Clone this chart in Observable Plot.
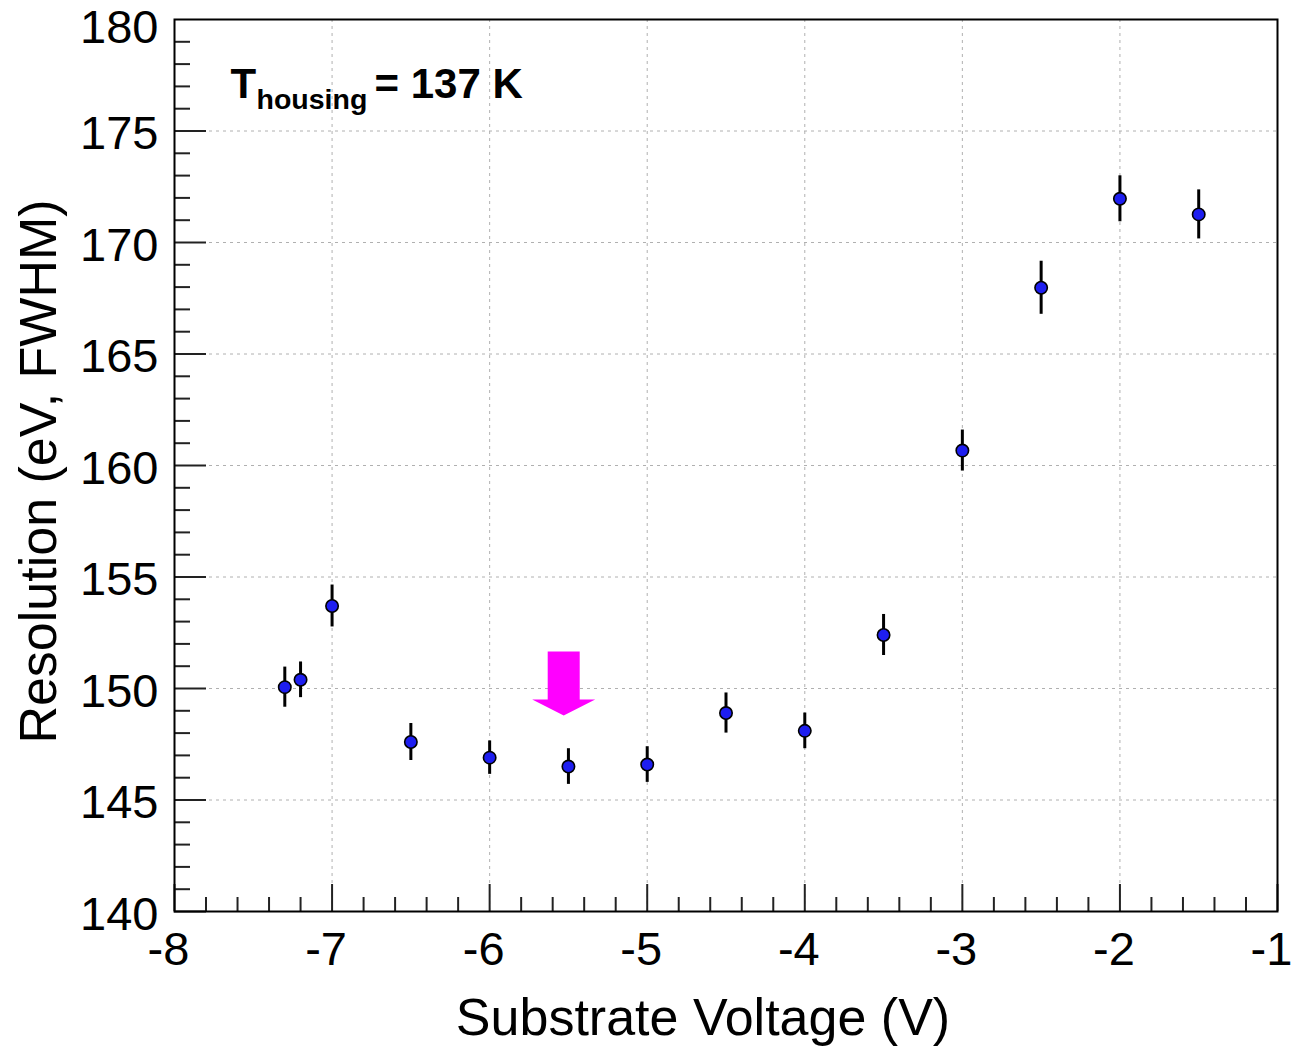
<!DOCTYPE html>
<html><head><meta charset="utf-8">
<script src="https://cdn.jsdelivr.net/npm/d3@7"></script>
<script src="https://cdn.jsdelivr.net/npm/@observablehq/plot@0.6"></script>
<style>body{margin:0;background:#fff} svg{display:block}</style>
</head><body><div id="chart"></div>
<script>
// Data
const voltage = [-7.3, -7.2, -7.0, -6.5, -6.0, -5.5, -5.0, -4.5, -4.0, -3.5, -3.0, -2.5, -2.0, -1.5];
const resolution = [150.06, 150.39, 153.7, 147.6, 146.9, 146.5, 146.59, 148.9, 148.1, 152.4, 160.67, 167.97, 171.96, 171.26];
const resolutionError = [0.9, 0.8, 0.94, 0.83, 0.75, 0.8, 0.8, 0.9, 0.8, 0.92, 0.92, 1.19, 1.03, 1.1];

const xTicks = [-8, -7, -6, -5, -4, -3, -2, -1];
const yTicks = [140, 145, 150, 155, 160, 165, 170, 175];
const yTopTick = [180];
const xMinorTicks = [-7.8, -7.6, -7.4, -7.2, -6.8, -6.6, -6.4, -6.2, -5.8, -5.6, -5.4, -5.2, -4.8, -4.6, -4.4, -4.2, -3.8, -3.6, -3.4, -3.2, -2.8, -2.6, -2.4, -2.2, -1.8, -1.6, -1.4, -1.2];
const yMinorTicks = [141, 142, 143, 144, 146, 147, 148, 149, 151, 152, 153, 154, 156, 157, 158, 159, 161, 162, 163, 164, 166, 167, 168, 169, 171, 172, 173, 174, 176, 177, 178, 179];
const xGrid = [-7, -6, -5, -4, -3, -2];
const yGrid = [145, 150, 155, 160, 165, 170, 175];

const xTitle = "Substrate Voltage (V)";
const yTitle = "Resolution (eV, FWHM)";
const noteMain = "T";
const noteSub = "housing";
const noteRest = "= 137 K";
// magenta arrow pointing at the optimum (tip position, in data units)
const arrowTip = [{v: -5.53, r: 148.79}];

const points = voltage.map((v, i) => ({v, r: resolution[i], e: resolutionError[i]}));

const font = "'Liberation Sans', Arial, Helvetica, sans-serif";

const blockArrow = {
  draw(ctx) {
    ctx.moveTo(0, 0);
    ctx.lineTo(-31.5, -16);
    ctx.lineTo(-16, -16);
    ctx.lineTo(-16, -64);
    ctx.lineTo(16, -64);
    ctx.lineTo(16, -16);
    ctx.lineTo(31.5, -16);
    ctx.closePath();
  }
};

const chart = Plot.plot({
  width: 1296,
  height: 1047,
  marginLeft: 174,
  marginRight: 19,
  marginTop: 19,
  marginBottom: 136,
  style: {fontFamily: font, background: "#fff", color: "#000"},
  x: {domain: [-8, -1]},
  y: {domain: [140, 180]},
  marks: [
    Plot.gridX(xGrid, {stroke: "#b0b0b0", strokeOpacity: 1, strokeWidth: 1, strokeDasharray: "3,4"}),
    Plot.gridY(yGrid, {stroke: "#b0b0b0", strokeOpacity: 1, strokeWidth: 1, strokeDasharray: "3,4"}),
    // inward ticks
    Plot.axisX(xMinorTicks, {tickSize: -14, tickFormat: () => "", label: null, stroke: "#222", strokeWidth: 2}),
    Plot.axisX(xTicks, {tickSize: -27, tickFormat: () => "", label: null, stroke: "#222", strokeWidth: 2}),
    Plot.axisY(yMinorTicks, {tickSize: -16, tickFormat: () => "", label: null, stroke: "#222", strokeWidth: 2}),
    Plot.axisY(yTicks, {tickSize: -32, tickFormat: () => "", label: null, stroke: "#222", strokeWidth: 2}),
    // tick labels
    Plot.axisX(xTicks, {tickSize: 0, tickPadding: 20, tickFormat: d => String(d), label: null, fontSize: 47, fill: "#000", dx: -6}),
    Plot.axisY(yTicks, {tickSize: 0, tickPadding: 16, tickFormat: d => String(d), label: null, fontSize: 47, fill: "#000", dy: 3}),
    Plot.axisY(yTopTick, {tickSize: 0, tickPadding: 16, tickFormat: d => String(d), label: null, fontSize: 47, fill: "#000", dy: 8}),
    // axis titles
    Plot.text([xTitle], {frameAnchor: "bottom", textAnchor: "middle", dx: -23, dy: 107, fontSize: 52, fill: "#000", lineAnchor: "middle"}),
    Plot.text([yTitle], {frameAnchor: "left", textAnchor: "middle", rotate: -90, dx: -135, dy: 6, fontSize: 52, fill: "#000", lineAnchor: "middle"}),
    Plot.frame({stroke: "#000", strokeWidth: 2}),
    // error bars and points
    Plot.ruleX(points, {x: "v", y1: d => d.r - d.e, y2: d => d.r + d.e, stroke: "#000", strokeWidth: 3}),
    Plot.dot(points, {x: "v", y: "r", r: 6.2, fill: "#1e1ef0", stroke: "#000", strokeWidth: 1.6}),
    // arrow
    Plot.dot(arrowTip, {x: "v", y: "r", symbol: blockArrow, fill: "#ff00ff", stroke: "none"}),
    // annotation
    Plot.text([noteMain], {frameAnchor: "top-left", dx: 56, dy: 78, textAnchor: "start", lineAnchor: "bottom", fontSize: 42, fontWeight: "bold", fill: "#000"}),
    Plot.text([noteSub], {frameAnchor: "top-left", dx: 82, dy: 89, textAnchor: "start", lineAnchor: "bottom", fontSize: 28.5, fontWeight: "bold", fill: "#000"}),
    Plot.text([noteRest], {frameAnchor: "top-left", dx: 200, dy: 78, textAnchor: "start", lineAnchor: "bottom", fontSize: 42, fontWeight: "bold", fill: "#000"})
  ]
});
document.getElementById("chart").append(chart);
</script>
</body></html>
